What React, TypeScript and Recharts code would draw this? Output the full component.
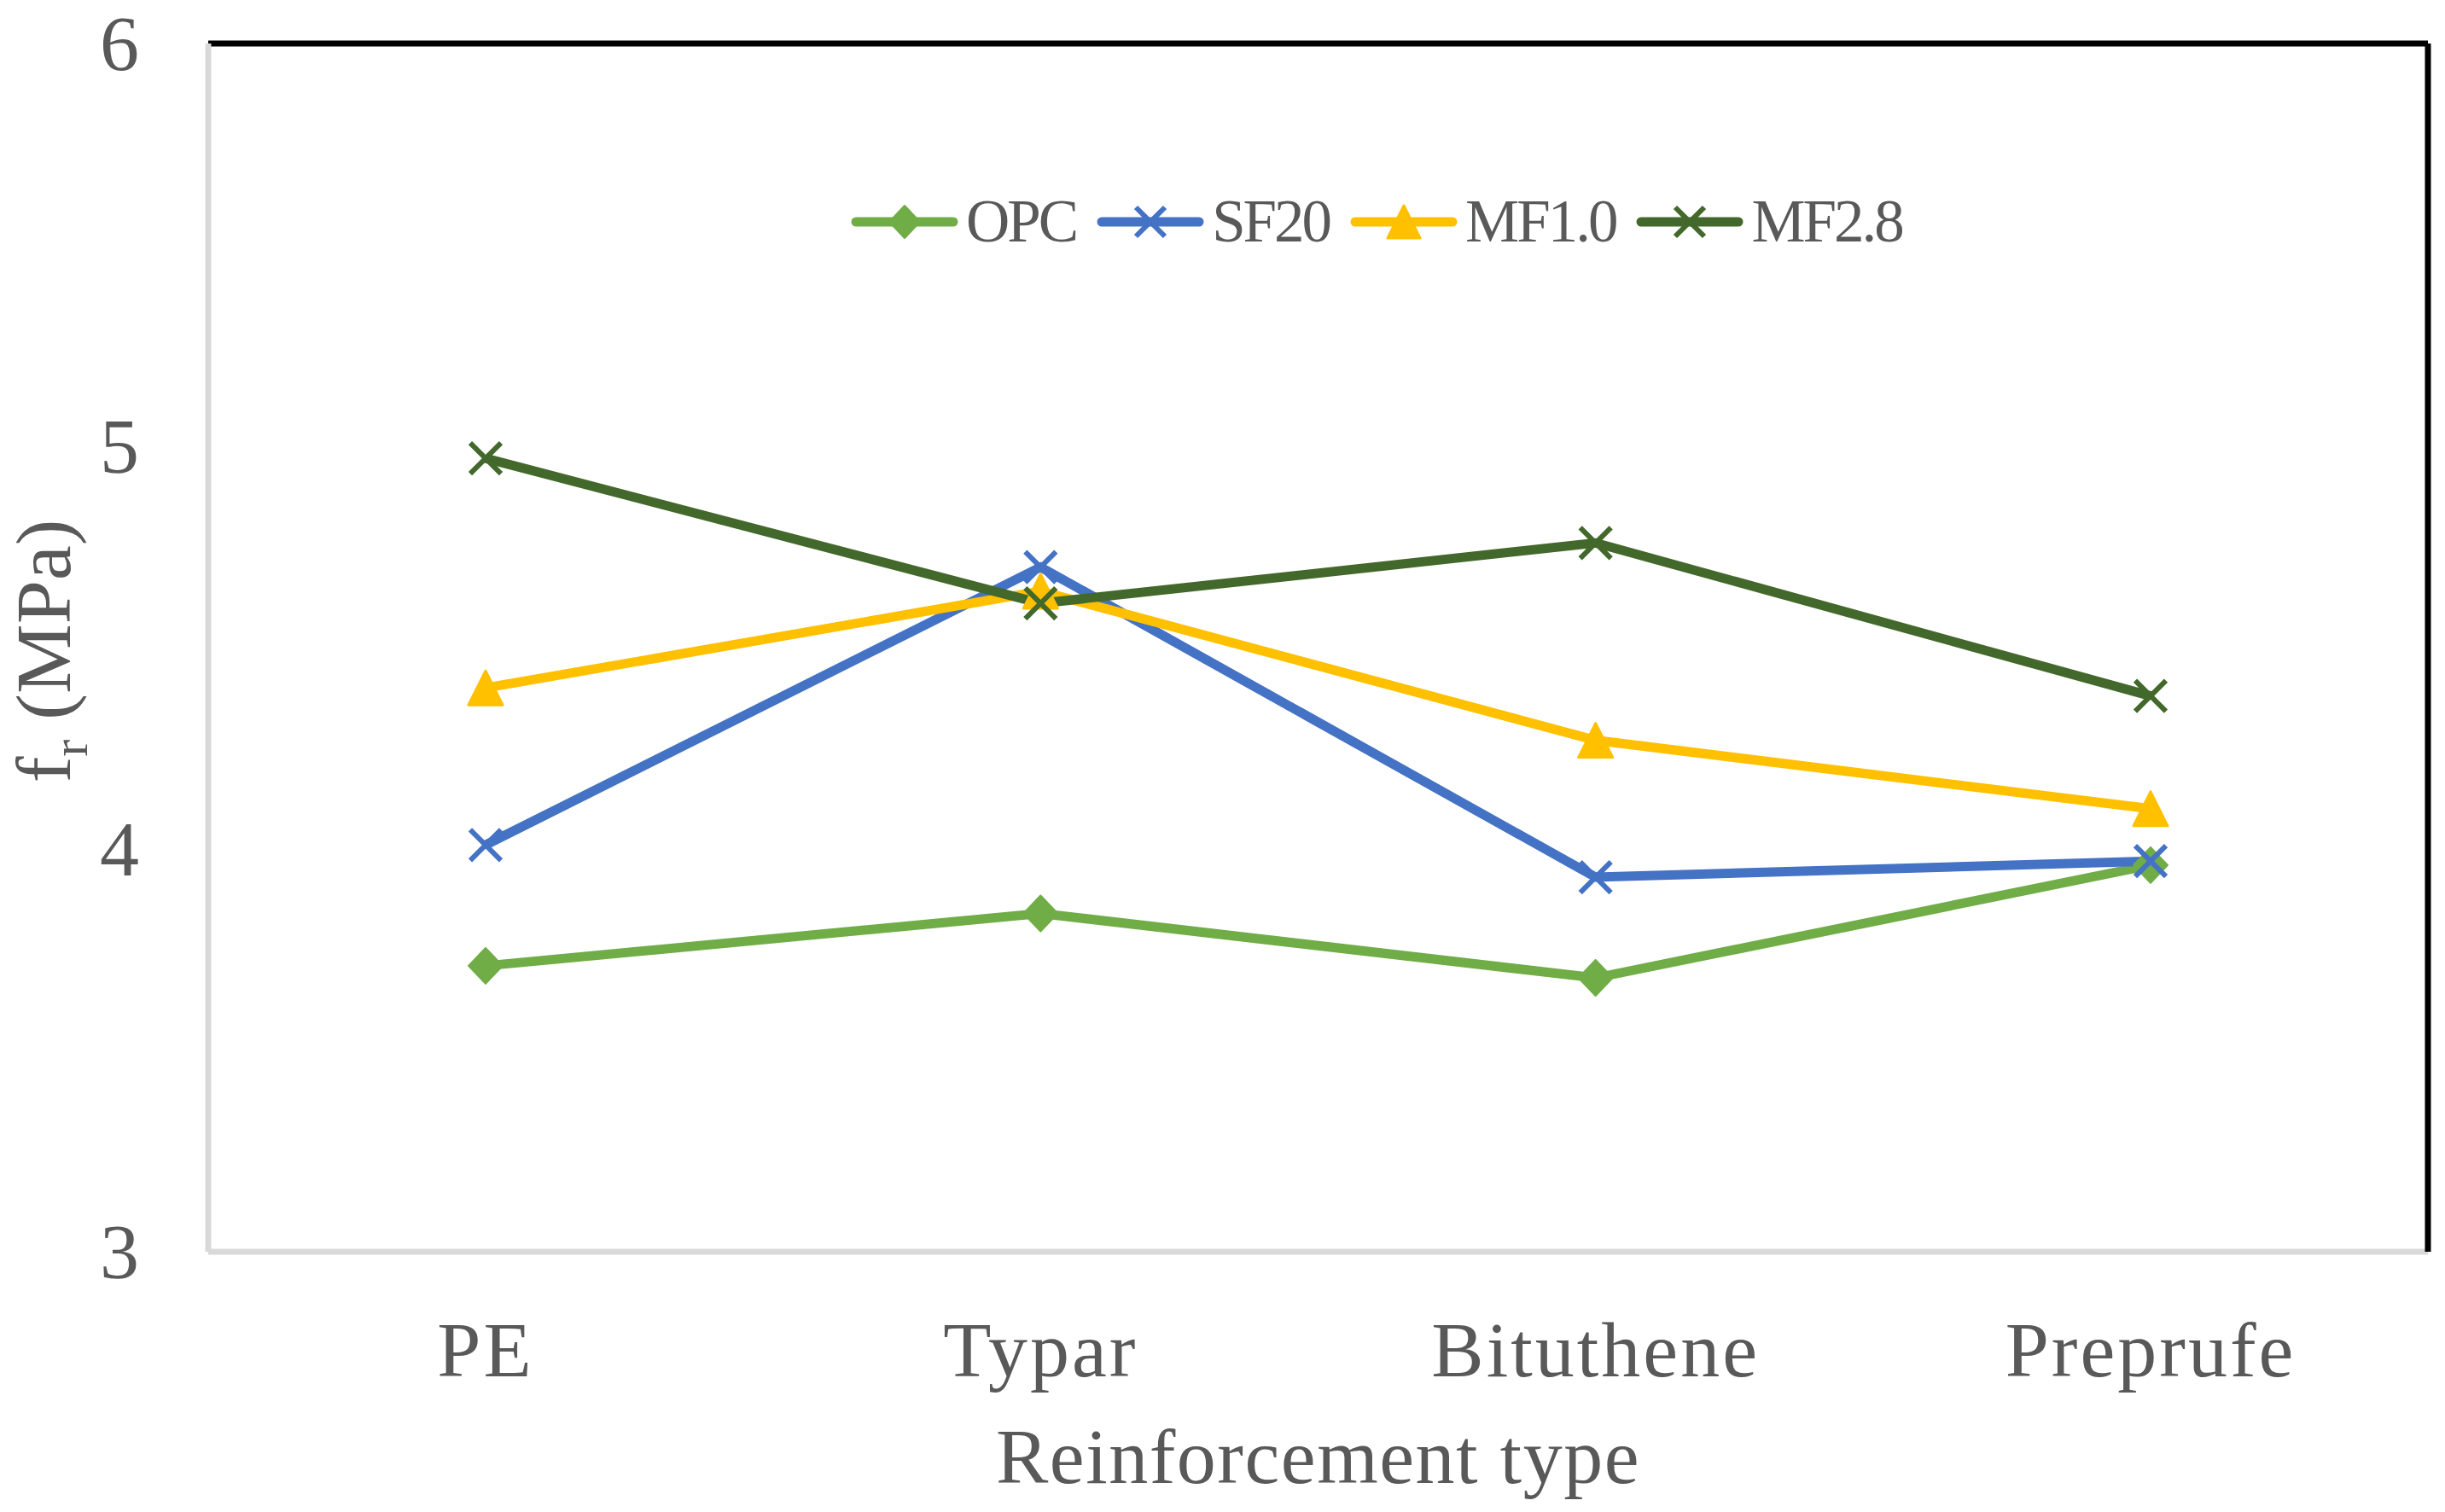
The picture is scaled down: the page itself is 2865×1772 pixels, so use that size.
import { Legend, Line, LineChart, ReferenceLine, XAxis, YAxis } from 'recharts'

// values (MPa)
const categories = ['PE', 'Typar', 'Bituthene', 'Preprufe']
const opc = [3.71, 3.84, 3.68, 3.96]
const sf20 = [4.01, 4.7, 3.93, 3.97]
const mf10 = [4.4, 4.64, 4.27, 4.1]
const mf28 = [4.97, 4.61, 4.76, 4.38]
const yTicks = [3, 4, 5, 6]

type Shape = 'diamond' | 'x' | 'triangle'

const series: { key: string; name: string; color: string; shape: Shape }[] = [
  { key: 'opc', name: 'OPC', color: '#70AD47', shape: 'diamond' },
  { key: 'sf20', name: 'SF20', color: '#4472C4', shape: 'x' },
  { key: 'mf10', name: 'MF1.0', color: '#FFC000', shape: 'triangle' },
  { key: 'mf28', name: 'MF2.8', color: '#43682B', shape: 'x' },
]

const data = categories.map((name, i) => ({
  name,
  opc: opc[i],
  sf20: sf20[i],
  mf10: mf10[i],
  mf28: mf28[i],
}))

const FONT = '"Liberation Serif", "Times New Roman", serif'
const TEXT = '#595959'

function Marker({
  shape,
  color,
  cx,
  cy,
  s = 20,
}: {
  shape: Shape
  color: string
  cx: number
  cy: number
  s?: number
}) {
  if (shape === 'diamond') {
    return (
      <path
        d={`M${cx},${cy - s - 1} L${cx + s},${cy} L${cx},${cy + s + 1} L${cx - s},${cy} Z`}
        fill={color}
        stroke={color}
        strokeWidth={2}
        strokeLinejoin="round"
      />
    )
  }
  if (shape === 'triangle') {
    return (
      <path
        d={`M${cx},${cy - s} L${cx + s},${cy + s} L${cx - s},${cy + s} Z`}
        fill={color}
        stroke={color}
        strokeWidth={3}
        strokeLinejoin="round"
      />
    )
  }
  const a = s - 2
  return (
    <path
      d={`M${cx - a},${cy - a} L${cx + a},${cy + a} M${cx + a},${cy - a} L${cx - a},${cy + a}`}
      stroke={color}
      strokeWidth={6}
      fill="none"
    />
  )
}

const renderLegend = () => (
  <div
    style={{
      display: 'flex',
      alignItems: 'center',
      fontFamily: FONT,
      fontSize: 71,
      letterSpacing: -3,
      lineHeight: 1,
      color: TEXT,
      whiteSpace: 'nowrap',
    }}
  >
    {series.map((s) => (
      <div key={s.key} style={{ display: 'flex', alignItems: 'center', marginRight: 24 }}>
        <svg width={126} height={46} style={{ display: 'block' }}>
          <line x1={6} y1={23} x2={120} y2={23} stroke={s.color} strokeWidth={11} strokeLinecap="round" />
          <Marker shape={s.shape} color={s.color} cx={63} cy={23} s={s.shape === 'diamond' ? 18 : 19} />
        </svg>
        <span style={{ marginLeft: 9 }}>{s.name}</span>
      </div>
    ))}
  </div>
)

const renderXTick = (props: any) => (
  <text
    x={props.x}
    y={props.y}
    textAnchor="middle"
    fill={TEXT}
    fontFamily={FONT}
    fontSize={92}
    letterSpacing={3}
  >
    {props.payload.value}
  </text>
)

const renderYTick = (props: any) => (
  <text
    x={props.x}
    y={props.y + 31}
    textAnchor="end"
    fill={TEXT}
    fontFamily={FONT}
    fontSize={92}
  >
    {props.payload.value}
  </text>
)

const renderXLabel = (props: any) => {
  const vb = props?.viewBox ?? { x: 244, y: 1467, width: 2601, height: 305 }
  return (
    <text
      x={vb.x + vb.width / 2}
      y={vb.y + 271}
      textAnchor="middle"
      fill={TEXT}
      fontFamily={FONT}
      fontSize={92}
      letterSpacing={1.5}
    >
      Reinforcement type
    </text>
  )
}

const renderYLabel = (props: any) => {
  const vb = props?.viewBox ?? { x: 0, y: 51, width: 244, height: 1416 }
  const cx = vb.x + 82
  const cy = vb.y + vb.height / 2 + 4
  return (
    <text
      x={cx}
      y={cy}
      transform={`rotate(-90, ${cx}, ${cy})`}
      textAnchor="middle"
      fill={TEXT}
      fontFamily={FONT}
      fontSize={92}
    >
      f
      <tspan fontSize={60} dy={20}>
        r
      </tspan>
      <tspan dy={-20}> (MPa)</tspan>
    </text>
  )
}

export default function App() {
  return (
    <div style={{ position: 'absolute', left: 0, top: 0, width: 2865, height: 1772, background: '#fff' }}>
      <LineChart width={2865} height={1772} data={data} margin={{ top: 51, right: 0, bottom: 0, left: 0 }}>
        <XAxis
          dataKey="name"
          height={305}
          padding={{ left: 325, right: 325 }}
          interval={0}
          axisLine={{ stroke: '#D9D9D9', strokeWidth: 7 }}
          tickLine={false}
          tickSize={0}
          tickMargin={146}
          tick={renderXTick}
          label={renderXLabel}
        />
        <YAxis
          width={244}
          domain={[3, 6]}
          ticks={yTicks}
          type="number"
          axisLine={{ stroke: '#D9D9D9', strokeWidth: 7 }}
          tickLine={false}
          tickSize={0}
          tickMargin={81}
          tick={renderYTick}
          label={renderYLabel}
        />
        <YAxis
          yAxisId="right"
          orientation="right"
          width={20}
          domain={[3, 6]}
          type="number"
          axisLine={{ stroke: '#000000', strokeWidth: 7 }}
          tickLine={false}
          tick={false}
        />
        {/* black top edge of the plot box */}
        <ReferenceLine y={yTicks[yTicks.length - 1]} stroke="#000000" strokeWidth={7} ifOverflow="visible" />
        <Legend
          verticalAlign="middle"
          align="center"
          content={renderLegend}
          wrapperStyle={{ left: 997, top: 224, width: 'auto', height: 'auto' }}
        />
        {series.map((s) => (
          <Line
            key={s.key}
            dataKey={s.key}
            name={s.name}
            type="linear"
            stroke={s.color}
            strokeWidth={11}
            isAnimationActive={false}
            dot={(p: any) => (
              <Marker key={`${s.key}-${p.index}`} shape={s.shape} color={s.color} cx={p.cx} cy={p.cy} />
            )}
            activeDot={false}
          />
        ))}
      </LineChart>
    </div>
  )
}
